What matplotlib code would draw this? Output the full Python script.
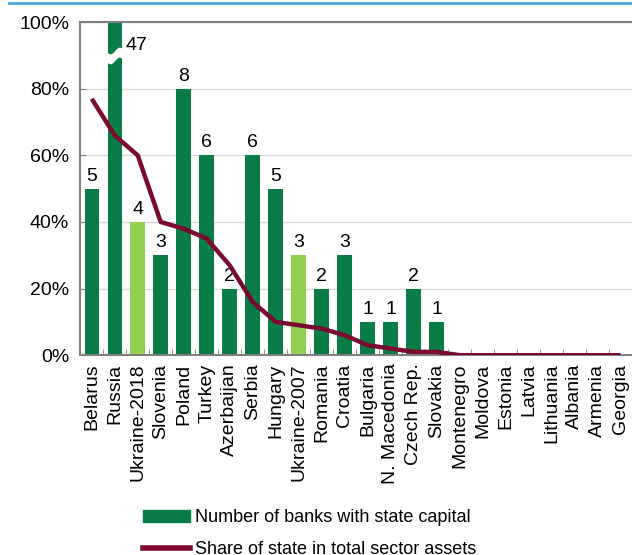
import numpy as np
import matplotlib
matplotlib.use("Agg")
import matplotlib.pyplot as plt
from matplotlib.patches import Patch
from matplotlib.lines import Line2D

plt.rcParams['font.family'] = ['Liberation Sans', 'DejaVu Sans']

# data
countries = ["Belarus", "Russia", "Ukraine-2018", "Slovenia", "Poland", "Turkey",
             "Azerbaijan", "Serbia", "Hungary", "Ukraine-2007", "Romania", "Croatia",
             "Bulgaria", "N. Macedonia", "Czech Rep.", "Slovakia", "Montenegro",
             "Moldova", "Estonia", "Latvia", "Lithuania", "Albania", "Armenia", "Georgia"]
banks = [5, 47, 4, 3, 8, 6, 2, 6, 5, 3, 2, 3, 1, 1, 2, 1, 0, 0, 0, 0, 0, 0, 0, 0]
state_share = [77, 66, 60, 40, 38, 35, 27, 16, 10, 9, 8, 6, 3, 2, 1, 1,
               0, 0, 0, 0, 0, 0, 0, 0]
highlight = ["Ukraine-2018", "Ukraine-2007"]

dark_green = "#0a7c45"
light_green = "#92d050"
maroon = "#7a0a2e"

fig = plt.figure(figsize=(6.32, 5.55), dpi=100)
ax = fig.add_axes([0.127, 0.360, 0.873, 0.600])

x = np.arange(len(countries))
heights = [min(b * 10, 100) for b in banks]
colors = [light_green if c in highlight else dark_green for c in countries]
ax.bar(x, heights, width=0.63, color=colors, zorder=2)
ax.plot(x, state_share, color=maroon, lw=3.2, zorder=4, solid_capstyle='butt')

# break on the Russia bar
i = countries.index("Russia")
xs = np.linspace(i - 0.4, i + 0.4, 50)
wave = 1.0 * np.sin((xs - i) / 0.4 * np.pi)
ax.fill_between(xs, 88.5 + wave, 91.5 + wave, color="white", zorder=3, lw=0)

for xi, b, h in zip(x, banks, heights):
    if b == 0:
        continue
    if b * 10 > 100:
        ax.text(xi + 0.45, 93, str(b), ha='left', va='center', fontsize=14)
    else:
        ax.text(xi, h + 1.2, str(b), ha='center', va='bottom', fontsize=14)

ax.set_xlim(-0.5, len(countries) - 0.5)
ax.set_ylim(0, 100)
ax.set_yticks([0, 20, 40, 60, 80, 100])
ax.set_yticklabels(["0%", "20%", "40%", "60%", "80%", "100%"], fontsize=14)
ax.set_xticks(x)
ax.set_xticklabels(countries, rotation=90, fontsize=14)
ax.tick_params(axis='x', length=0, pad=6)
ax.set_xticks(x[:-1] + 0.5, minor=True)
ax.tick_params(axis='x', which='minor', direction='in', length=4, color='#808080')
ax.tick_params(axis='y', direction='in', length=4, color='#808080', pad=8)
ax.grid(axis='y', color='#d9d9d9', lw=1, zorder=0)
ax.set_axisbelow(True)
for s in ['left', 'bottom', 'top']:
    ax.spines[s].set_color('#808080')
    ax.spines[s].set_linewidth(1.5)
ax.spines['right'].set_visible(False)

# blue rule at the top
fig.add_artist(Line2D([0.015, 1.0], [0.994, 0.994], color='#4aa8e0', lw=2,
                      transform=fig.transFigure))

handles = [Patch(color=dark_green), Line2D([], [], color=maroon, lw=4)]
fig.legend(handles, ["Number of banks with state capital",
                     "Share of state in total sector assets"],
           loc='upper left', bbox_to_anchor=(0.226, 0.082), frameon=False,
           fontsize=13, handlelength=2.6, handletextpad=0.3, labelspacing=0.8,
           borderpad=0, borderaxespad=0)

fig.savefig("out.png", dpi=100)
